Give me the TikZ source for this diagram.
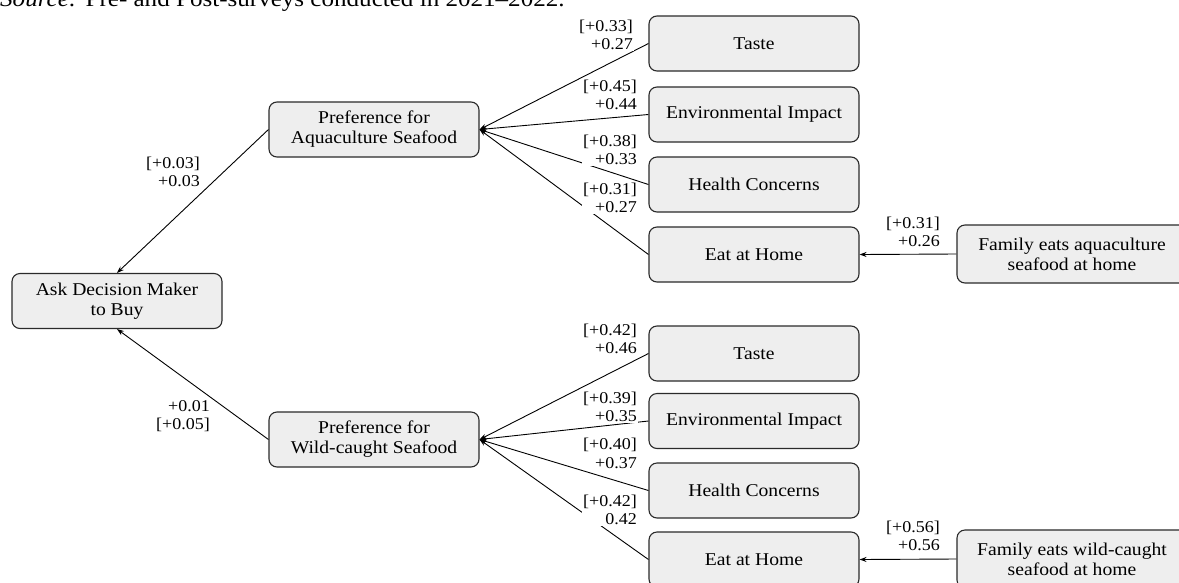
\documentclass[tikz,border=0pt]{standalone}
\usepackage{fontspec}
\setmainfont{Liberation Serif}[FakeStretch=1.09]
\usetikzlibrary{arrows.meta}
\definecolor{boxfill}{HTML}{EEEEEE}
\definecolor{boxline}{HTML}{2A2A2A}
\tikzset{
  box/.style={draw=boxline, fill=boxfill, line width=1.1pt, rounded corners=8pt,
    minimum width=210pt, minimum height=55pt, align=center, inner sep=2pt,
    font=\fontsize{18}{20}\selectfont},
  lbl/.style={anchor=east, align=right, fill=white, inner sep=1pt,
    font=\fontsize{16.5}{18.5}\selectfont},
  conn/.style={draw=black, line width=0.9pt, -{Stealth[length=7pt,width=5pt]}}
}
\begin{document}
\begin{tikzpicture}[x=1pt,y=-1pt]
\useasboundingbox (0,0) rectangle (1179,582);
\begin{scope}
\clip (0,0) rectangle (1179,582);
\node[anchor=base west, inner sep=0pt, font=\fontsize{23}{25}\selectfont] (src) at (0,6) {\textit{Source:} Pre- and Post-surveys conducted in 2021–2022.};

\node[box] (ask) at (117,301) {Ask Decision Maker\\to Buy};
\node[box] (pa) at (374,129.5) {Preference for\\Aquaculture Seafood};
\node[box] (pw) at (374,439.5) {Preference for\\Wild-caught Seafood};

\node[box] (t1) at (754,43.5) {Taste};
\node[box] (v1) at (754,114.5) {Environmental Impact};
\node[box] (h1) at (754,184.5) {Health Concerns};
\node[box] (e1) at (754,254.5) {Eat at Home};
\node[box, minimum width=230pt, minimum height=58pt] (f1) at (1072,254) {Family eats aquaculture\\seafood at home};

\node[box] (t2) at (754,353.5) {Taste};
\node[box] (v2) at (754,421) {Environmental Impact};
\node[box] (h2) at (754,490.5) {Health Concerns};
\node[box] (e2) at (754,559.5) {Eat at Home};
\node[box, minimum width=230pt, minimum height=58pt] (f2) at (1072,559) {Family eats wild-caught\\seafood at home};

\draw[conn] (pa.west) -- (ask.north);
\draw[conn] (pw.west) -- (ask.south);
\foreach \n in {t1,v1,h1,e1} \draw[conn] (\n.west) -- (pa.east);
\foreach \n in {t2,v2,h2,e2} \draw[conn] (\n.west) -- (pw.east);
\draw[conn] (f1.west) -- (e1.east);
\draw[conn] (f2.west) -- (e2.east);

\node[lbl] (l1) at (634,35) {[+0.33]\\+0.27};
\node[lbl] (l2) at (638,95) {[+0.45]\\+0.44};
\node[lbl] (l3) at (638,150) {[+0.38]\\+0.33};
\node[lbl] (l4) at (638,198) {[+0.31]\\+0.27};
\node[lbl] (l5) at (201,172) {[+0.03]\\+0.03};
\node[lbl] (l6) at (941,232) {[+0.31]\\+0.26};

\node[lbl] (m1) at (638,339) {[+0.42]\\+0.46};
\node[lbl] (m2) at (638,407) {[+0.39]\\+0.35};
\node[lbl] (m3) at (638,453.5) {[+0.40]\\+0.37};
\node[lbl] (m4) at (638,510) {[+0.42]\\0.42};
\node[lbl] (m5) at (211,416) {+0.01\\{}[+0.05]};
\node[lbl] (m6) at (941,536) {[+0.56]\\+0.56};
\end{scope}
\end{tikzpicture}
\end{document}
